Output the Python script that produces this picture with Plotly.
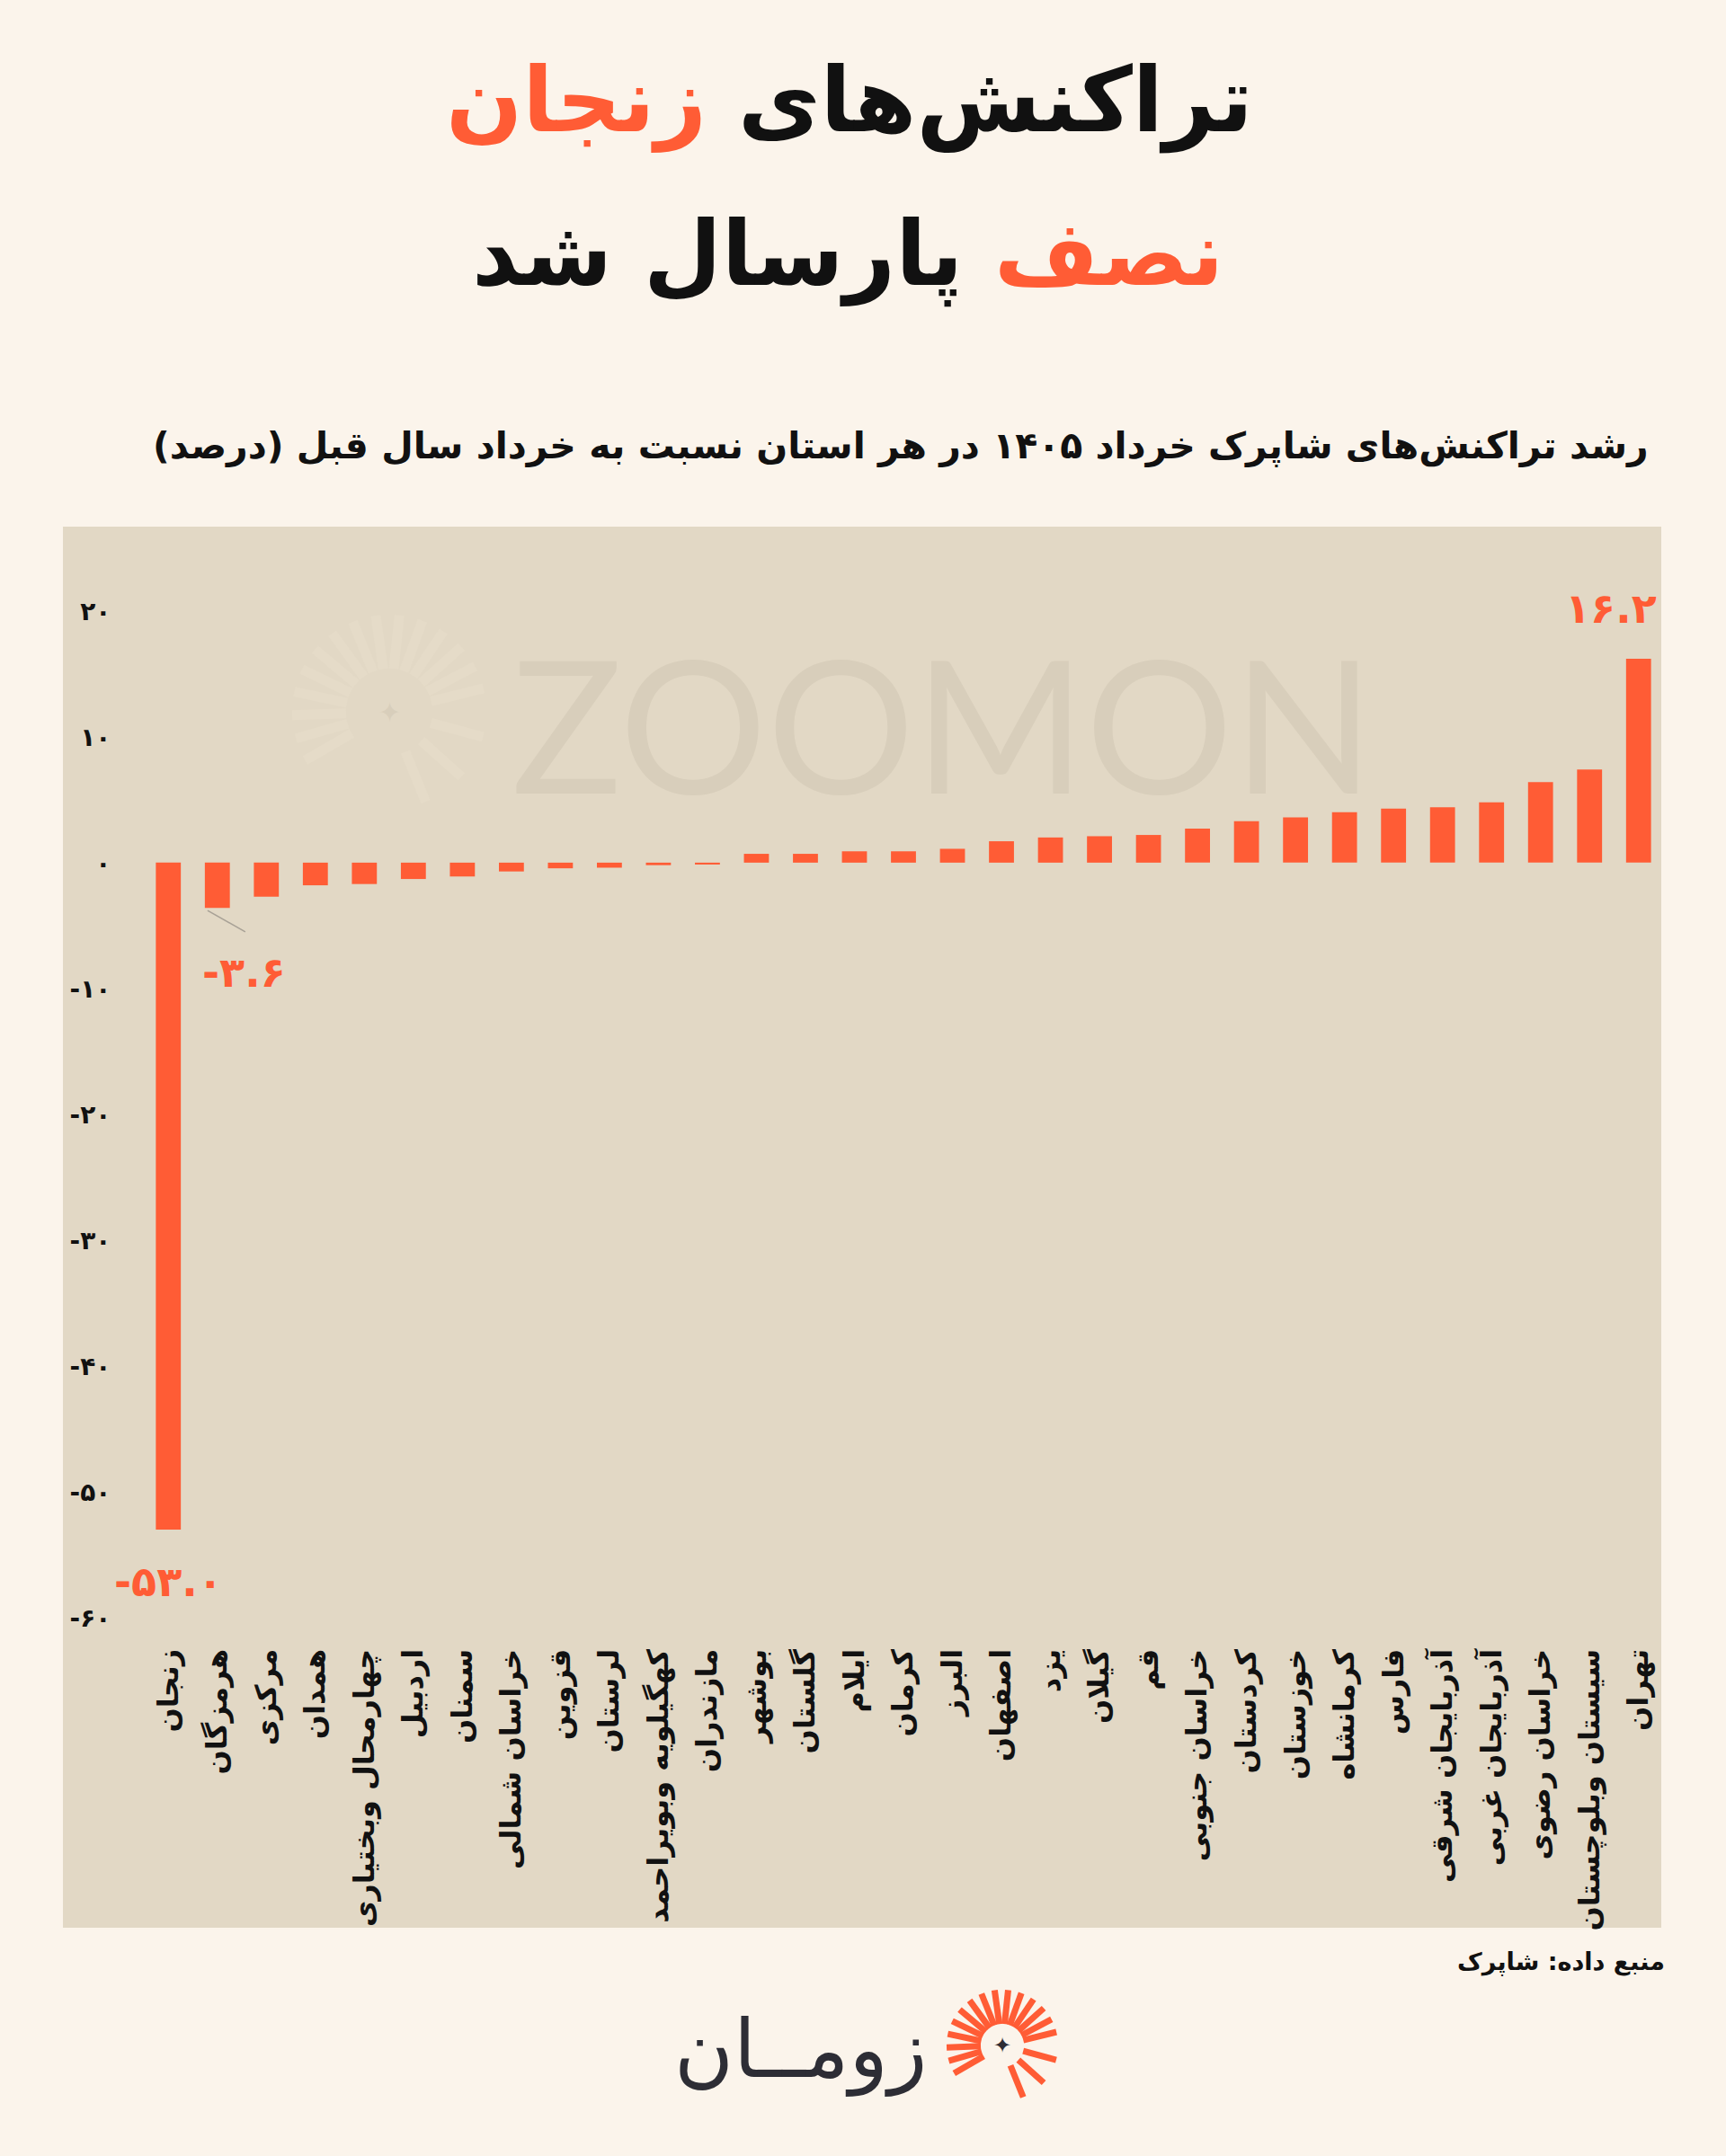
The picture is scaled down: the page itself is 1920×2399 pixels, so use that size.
import math
import plotly.graph_objects as go

# ---------------- data ----------------
provinces = [
    "زنجان", "هرمزگان", "مرکزی", "همدان", "چهارمحال وبختیاری", "اردبیل", "سمنان",
    "خراسان شمالی", "قزوین", "لرستان", "کهگیلویه وبویراحمد", "مازندران",
    "بوشهر", "گلستان", "ایلام", "کرمان", "البرز", "اصفهان", "یزد", "گیلان", "قم",
    "خراسان جنوبی", "کردستان", "خوزستان", "کرمانشاه", "فارس", "آذربایجان شرقی",
    "آذربایجان غربی", "خراسان رضوی", "سیستان وبلوچستان", "تهران",
]
growth = [
    -53.0, -3.6, -2.7, -1.8, -1.7, -1.3, -1.1, -0.7, -0.45, -0.4, -0.2, -0.15,
    0.7, 0.7, 0.9, 0.9, 1.1, 1.7, 2.0, 2.1, 2.2, 2.7, 3.3, 3.6, 4.0, 4.3, 4.4,
    4.8, 6.4, 7.4, 16.2,
]
y_tickvals = [20, 10, 0, -10, -20, -30, -40, -50, -60]
y_ticktext = ["۲۰", "۱۰", "۰", "-۱۰", "-۲۰", "-۳۰", "-۴۰", "-۵۰", "-۶۰"]

title_line1_black = "تراکنش‌های"
title_line1_orange = "زنجان"
title_line2_orange = "نصف"
title_line2_black = "پارسال شد"
subtitle = "رشد تراکنش‌های شاپرک خرداد ۱۴۰۵ در هر استان نسبت به خرداد سال قبل (درصد)"
source = "منبع داده: شاپرک"
label_max = "۱۶.۲"
label_min = "-۵۳.۰"
label_second = "-۳.۶"

# ---------------- style ----------------
W, H = 1920, 2399
ORANGE = "#FF5C35"
PAGE = "#FBF4EB"
PANEL = "#E2D8C5"
FONT = "DejaVu Sans"
RLM = "\u200f"

L, R, T, B = 160, 70, 600, 584
PW, PH = W - L - R, H - T - B
Y_TOP, Y_BOT = 25.7, -61.07


def px(x):
    return (x - L) / PW


def py(y):
    return (H - B - y) / PH


fig = go.Figure()
fig.add_trace(go.Bar(
    x=provinces, y=growth, marker=dict(color=ORANGE, line=dict(width=0)),
    hoverinfo="skip",
))

shapes = [dict(type="rect", xref="paper", yref="paper", layer="below",
               x0=px(70), x1=px(1848), y0=py(2145), y1=py(586),
               fillcolor=PANEL, line=dict(width=0))]

# leader line from the second bar's end to its label
shapes.append(dict(type="line", xref="x", yref="y", layer="above",
                   x0=1 - 0.2, y0=growth[1] - 0.2, x1=1 + 0.57, y1=growth[1] - 1.9,
                   line=dict(color="#A8A196", width=1.5)))


def sun(cx, cy, r1, r2, width, color, angles):
    out = []
    for a in angles:
        t = math.radians(a)
        out.append(dict(type="line", xref="paper", yref="paper", layer="below",
                        x0=px(cx + r1 * math.cos(t)), y0=py(cy + r1 * math.sin(t)),
                        x1=px(cx + r2 * math.cos(t)), y1=py(cy + r2 * math.sin(t)),
                        line=dict(color=color, width=width)))
    return out


ray_angles = list(range(150, 360, 14)) + [15, 42, 68]
shapes += sun(433, 792, 48, 108, 11, "#E5DBC8", ray_angles)
logo_shapes = sun(1115, 2276, 24, 62, 7, ORANGE, ray_angles)
for s in logo_shapes:
    s["layer"] = "above"
shapes += logo_shapes

annotations = [
    dict(xref="paper", yref="paper", x=px(945), y=py(112), xanchor="center", yanchor="middle",
         text=f"{RLM}{title_line1_black} <span style='color:{ORANGE}'>{title_line1_orange}</span>{RLM}",
         showarrow=False, font=dict(family=FONT, size=100, color="#111111", weight="bold")),
    dict(xref="paper", yref="paper", x=px(943), y=py(283), xanchor="center", yanchor="middle",
         text=f"{RLM}<span style='color:{ORANGE}'>{title_line2_orange}</span> {title_line2_black}{RLM}",
         showarrow=False, font=dict(family=FONT, size=100, color="#111111", weight="bold")),
    dict(xref="paper", yref="paper", x=px(1836), y=py(497), xanchor="right", yanchor="middle",
         text=RLM + subtitle + RLM, showarrow=False,
         font=dict(family=FONT, size=41, color="#111111", weight="bold")),
    dict(xref="paper", yref="paper", x=px(1048), y=py(804), xanchor="center", yanchor="middle",
         text="ZOOMON", showarrow=False,
         font=dict(family="Lato", size=205, color="#D8CEBB", weight=400)),
    dict(xref="paper", yref="paper", x=px(433), y=py(792), xanchor="center", yanchor="middle",
         text="✦", showarrow=False, font=dict(family=FONT, size=30, color="#D8CEBB")),
    dict(xref="paper", yref="paper", x=px(1854), y=py(2183), xanchor="right", yanchor="middle",
         text=RLM + source + RLM, showarrow=False,
         font=dict(family=FONT, size=27, color="#111111", weight="bold")),
    dict(xref="paper", yref="paper", x=px(1033), y=py(2280), xanchor="right", yanchor="middle",
         text="زومــان", showarrow=False,
         font=dict(family=FONT, size=90, color="#2D2D35")),
    dict(xref="paper", yref="paper", x=px(1115), y=py(2276), xanchor="center", yanchor="middle",
         text="✦", showarrow=False, font=dict(family=FONT, size=24, color="#2D2D35")),
    # value labels
    dict(x=provinces[-1], y=growth[-1], xanchor="right", yanchor="middle", xshift=22, yshift=56,
         text=label_max, showarrow=False,
         font=dict(family=FONT, size=46, color=ORANGE, weight="bold")),
    dict(x=provinces[0], y=growth[0], xanchor="center", yanchor="middle", yshift=-58,
         text=label_min, showarrow=False,
         font=dict(family=FONT, size=46, color=ORANGE, weight="bold")),
    dict(x=provinces[1], y=growth[1], xanchor="center", yanchor="middle", xshift=30, yshift=-72,
         text=label_second, showarrow=False,
         font=dict(family=FONT, size=46, color=ORANGE, weight="bold")),
]

fig.update_layout(
    width=W, height=H,
    margin=dict(l=L, r=R, t=T, b=B, pad=0, autoexpand=False),
    paper_bgcolor=PAGE, plot_bgcolor="rgba(0,0,0,0)",
    showlegend=False, bargap=0.49,
    shapes=shapes, annotations=annotations,
    xaxis=dict(tickangle=-90, showgrid=False, zeroline=False, showline=False, automargin=False,
               range=[-0.5, len(provinces) - 0.5], autorange=False,
               ticks="outside", ticklen=6, tickcolor="rgba(0,0,0,0)",
               tickfont=dict(family=FONT, size=32, color="#111111", weight="bold"),
               fixedrange=True),
    yaxis=dict(range=[Y_BOT, Y_TOP], autorange=False, tickvals=y_tickvals, ticktext=y_ticktext,
               automargin=False, showgrid=False, zeroline=False, showline=False,
               ticks="outside", ticklen=30, tickcolor="rgba(0,0,0,0)",
               tickfont=dict(family=FONT, size=28, color="#111111", weight="bold"),
               fixedrange=True),
)

fig.write_html("out.html", config={"displayModeBar": False})
